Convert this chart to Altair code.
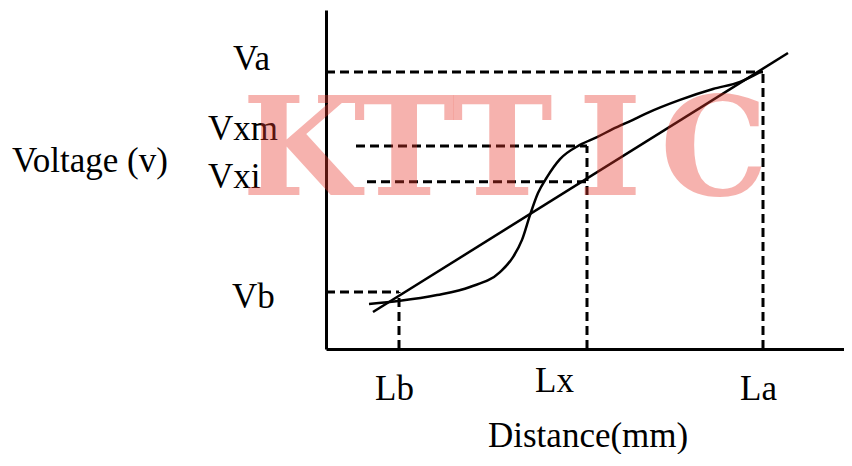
import altair as alt
import pandas as pd

# ---- values (chart units: x 0..103.6, y 0..100) ----
v_names = ["Va", "Vxm", "Vxi", "Vb"]
v_levels = [81.7, 59.9, 49.3, 16.8]
v_dash_start = [0.0, 6.0, 8.2, 0.0]
v_dash_end = [87.4, 52.2, 52.2, 14.6]

l_names = ["Lb", "Lx", "La"]
l_positions = [14.6, 52.2, 87.4]
l_levels = [16.8, 59.9, 81.7]

line_x = [9.4, 92.4]
line_y = [10.9, 87.3]

curve_x = [8.6, 14.8, 22.2, 28.8, 34.8, 37.4, 39.2, 40.8, 42.4, 44.2, 46.8,
           50.8, 54.2, 57.4, 61.4, 64.2, 70.8, 77.4, 82.8, 86.8]
curve_y = [13.3, 14.2, 15.9, 18.3, 22.7, 27.1, 32.2, 39.5, 46.0, 50.7, 56.0,
           60.2, 62.5, 64.9, 67.6, 69.6, 73.5, 76.7, 78.8, 81.7]

v_label_x = [-18.6, -23.6, -23.6, -18.8]
v_label_y = [82.3, 61.7, 47.5, 12.1]
l_label_x = [9.8, 41.8, 82.8]
l_label_y = [-15.0, -12.7, -15.0]

title_texts = ["Voltage (v)", "Distance(mm)"]
title_x = [-62.8, 32.4]
title_y = [52.2, -29.0]

watermark_letters = ["K", "T", "T", "I", "C"]
watermark_x = [-5.0, 15.6, 35.2, 56.8, 77.6]
watermark_y = [45.4] * 5

# ---- tables ----
xs = alt.Scale(domain=[0, 103.6], nice=False, zero=False)
ys = alt.Scale(domain=[0, 100], nice=False, zero=False)

def X(f="x"):
    return alt.X(f"{f}:Q", scale=xs, title=None)

def Y(f="y"):
    return alt.Y(f"{f}:Q", scale=ys, title=None)

h_df = pd.DataFrame({"x": v_dash_start, "x2": v_dash_end, "y": v_levels})
v_df = pd.DataFrame({"x": l_positions, "y": [0.0] * 3, "y2": l_levels})
line_df = pd.DataFrame({"x": line_x, "y": line_y, "i": range(len(line_x))})
curve_df = pd.DataFrame({"x": curve_x, "y": curve_y, "i": range(len(curve_x))})
labels_df = pd.DataFrame({
    "x": v_label_x + l_label_x + title_x,
    "y": v_label_y + l_label_y + title_y,
    "t": v_names + l_names + title_texts,
})
wm_df = pd.DataFrame({"x": watermark_x, "y": watermark_y, "t": watermark_letters})

dash = dict(strokeDash=[9, 5], strokeWidth=3, color="black")

h_layer = alt.Chart(h_df).mark_rule(**dash).encode(x=X(), x2="x2:Q", y=Y())
v_layer = alt.Chart(v_df).mark_rule(**dash).encode(x=X(), y=Y(), y2="y2:Q")
line_layer = alt.Chart(line_df).mark_line(color="black", strokeWidth=2.5).encode(
    x=X(), y=Y(), order="i:Q")
curve_layer = alt.Chart(curve_df).mark_line(
    color="black", strokeWidth=2.5, interpolate="monotone").encode(
    x=X(), y=Y(), order="i:Q")
text_layer = alt.Chart(labels_df).mark_text(
    align="left", baseline="alphabetic", font="Liberation Serif",
    fontSize=35, color="black").encode(x=X(), y=Y(), text="t:N")
wm_layer = alt.Chart(wm_df).mark_text(
    align="center", baseline="alphabetic", font="DejaVu Serif",
    fontWeight="bold", fontSize=136, color="#E8382C", opacity=0.38).encode(
    x=X(), y=Y(), text="t:N")

chart = alt.layer(
    h_layer, v_layer, line_layer, curve_layer, text_layer, wm_layer
).properties(
    width=518, height=339,
    padding={"left": 318, "top": 2, "right": 0, "bottom": 105},
    autosize=alt.AutoSizeParams(type="none"),
).configure_view(stroke=None).configure_axis(
    domainColor="black", domainWidth=3, ticks=False, labels=False, grid=False
)

chart.save("out.html", embed_options={"renderer": "svg", "actions": False})
